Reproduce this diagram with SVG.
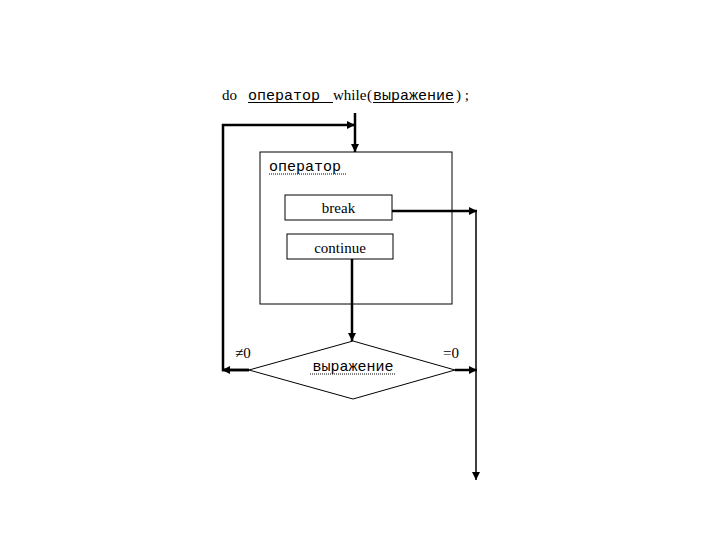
<svg xmlns="http://www.w3.org/2000/svg" width="720" height="540" viewBox="0 0 720 540">
<defs>
<marker id="ah" viewBox="0 0 10 10" refX="10" refY="5" markerWidth="9" markerHeight="8" orient="auto" markerUnits="userSpaceOnUse">
<path d="M0,0 L10,5 L0,10 Z" fill="#000"/>
</marker>
<style>
.ser{font-family:"Liberation Serif","Times New Roman",serif;font-size:15px;fill:#000}
.mono{font-family:"Liberation Mono","Courier New",monospace;font-size:15px;fill:#000}
.box{fill:none;stroke:#000;stroke-width:1}
.con{fill:none;stroke:#000;stroke-width:2.5}
.thin{fill:none;stroke:#000;stroke-width:1.5}
.ul{stroke:#000;stroke-width:1}
.dot{stroke:#000;stroke-width:1;stroke-dasharray:1 1}
</style>
</defs>
<rect width="720" height="540" fill="#fff"/>
<g id="title">
<text x="222" y="100" class="ser">do</text>
<text x="248" y="100" class="mono">оператор</text>
<line x1="248" y1="102.5" x2="333" y2="102.5" class="ul"/>
<text x="333" y="100" class="ser">while</text>
<text x="367" y="100" class="ser">(</text>
<text x="373" y="100" class="mono">выражение</text>
<line x1="373" y1="102.5" x2="454" y2="102.5" class="ul"/>
<text x="456" y="100" class="ser">) ;</text>
</g>
<g id="operator">
<rect x="260" y="152" width="192" height="152" class="box"/>
<text x="269" y="171" class="mono" font-size="16">оператор</text>
<line x1="269" y1="174" x2="346" y2="174" class="dot"/>
</g>
<g id="break">
<rect x="285" y="195" width="107" height="25" class="box"/>
<text x="338.5" y="213" class="ser" text-anchor="middle" font-size="16">break</text>
</g>
<g id="continue">
<rect x="287" y="234" width="106" height="25" class="box"/>
<text x="340" y="253" class="ser" text-anchor="middle" font-size="16">continue</text>
</g>
<g id="condition">
<polygon points="353,341 455,370 353,399 249,370" class="box"/>
<text x="353" y="371" class="mono" text-anchor="middle" font-size="15.5">выражение</text>
<line x1="310" y1="374" x2="395" y2="374" class="dot"/>
<text x="235" y="358" class="ser" font-size="16">≠0</text>
<text x="443" y="358" class="ser" font-size="16">=0</text>
</g>
<g id="connectors">
<line x1="355" y1="113" x2="355" y2="152" class="con" marker-end="url(#ah)"/>
<polyline points="249,370 223,370 223,125 355,125" class="con" marker-end="url(#ah)"/>
<line x1="249" y1="370" x2="222" y2="370" class="con" marker-end="url(#ah)"/>
<line x1="392" y1="211" x2="477" y2="211" class="con" marker-end="url(#ah)"/>
<line x1="476" y1="211" x2="476" y2="480" class="thin" marker-end="url(#ah)"/>
<line x1="352" y1="259" x2="352" y2="341" class="con" marker-end="url(#ah)"/>
<line x1="455" y1="370" x2="477" y2="370" class="con" marker-end="url(#ah)"/>
</g>
</svg>
